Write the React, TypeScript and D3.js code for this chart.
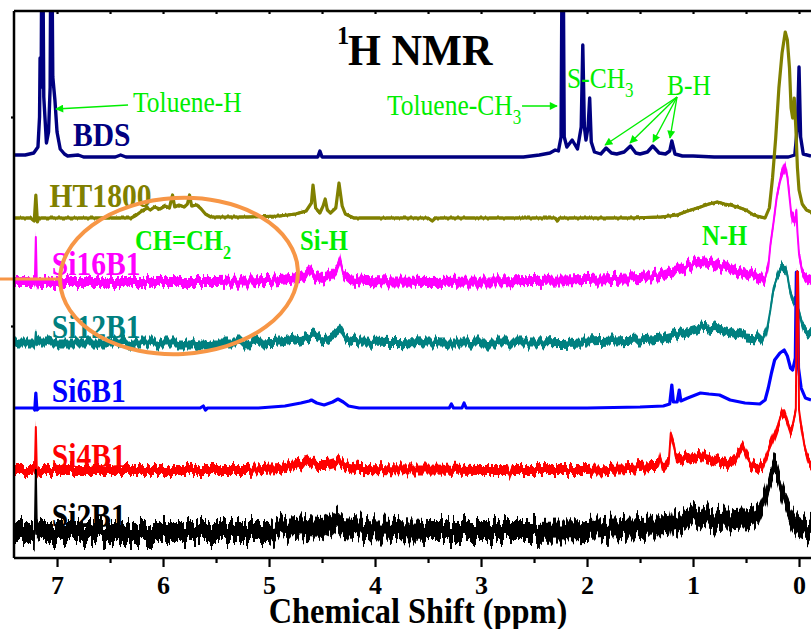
import React, { useEffect, useRef } from 'react';
import * as d3 from 'd3';

const WIDTH = 811;
const HEIGHT = 629;
const PLOT = { left: 14, top: 11, right: 811, bottom: 558 };

// Chemical shift axis (ppm, reversed) and stacked intensity axis (a.u.)
const ppmDomain: [number, number] = [7.406, -0.113];
const intensityDomain: [number, number] = [0, 547];
const majorTicks = [7, 6, 5, 4, 3, 2, 1, 0];
const minorTicks = [6.5, 5.5, 4.5, 3.5, 2.5, 1.5, 0.5];
const topTicks = [7, 6.5, 6, 5.5, 5, 4.5, 4, 3.5, 3, 2.5, 2, 1.5, 1, 0.5, 0];
const leftTicks = [232, 441];

const sampleNames = ['BDS', 'HT1800', 'Si16B1', 'Si12B1', 'Si6B1', 'Si4B1', 'Si2B1'];
const sampleColors = ['#000080', '#808000', '#ff00ff', '#008080', '#0000ff', '#ff0000', '#000000'];
const sampleOffsets = [401, 340, 276, 215, 150, 88, 26];
// half-thickness of the noise band around each trace
const sampleNoise = [0, 1.4, 5, 4.5, 0, 5, 10];
const sampleStroke = [3.4, 3.2, 2, 2, 3.2, 2, 2];
const sampleLabelPos: [number, number][] = [
  [6.85, 11], [7.07, 11], [7.05, 7], [7.05, 5], [7.05, 6], [7.05, 3], [7.05, 5],
];

// [ppm, intensity above the trace baseline]
const bdsSpectrum: [number, number][] = [
  [7.406, 2], [7.3, 2], [7.22, 4], [7.18, 10], [7.165, 40], [7.16, 99], [7.15, 70], [7.14, 300],
  [7.125, 60], [7.1, 14], [7.08, 25], [7.065, 70], [7.055, 300], [7.04, 80], [7.02, 57], [7.0, 25],
  [6.97, 8], [6.93, 3], [6.9, 1], [6.8, 2], [6.75, 0], [6.45, 0], [6.4, 2], [6.35, 0],
  [4.54, 0], [4.52, 6], [4.5, 0], [2.6, 0], [2.45, 2], [2.35, 4], [2.3, 7], [2.27, 6],
  [2.245, 20], [2.23, 300], [2.215, 20], [2.19, 10], [2.14, 17], [2.09, 8], [2.055, 30],
  [2.04, 112], [2.025, 30], [2.01, 17], [1.99, 30], [1.975, 59], [1.96, 15], [1.93, 5],
  [1.87, 3], [1.82, 9], [1.77, 4], [1.72, 3], [1.65, 5], [1.59, 11], [1.54, 4], [1.5, 3],
  [1.43, 5], [1.38, 11], [1.32, 4], [1.26, 3], [1.22, 6], [1.2, 16], [1.17, 3], [1.1, 1],
  [1.0, 1], [0.8, 0], [0.1, 0], [0.04, 2], [0.015, 30], [0.0, 90], [-0.015, 20], [-0.04, 3],
  [-0.113, 1],
];

const ht1800Spectrum: [number, number][] = [
  [7.406, 0], [7.25, 0], [7.215, -3], [7.2, 23], [7.185, -4], [7.17, 0], [6.3, 0], [6.25, 3],
  [6.2, 7], [6.15, 10], [6.12, 8], [6.08, 11], [6.03, 9], [5.98, 12], [5.94, 10], [5.91, 23],
  [5.89, 11], [5.85, 13], [5.8, 11], [5.77, 14], [5.75, 23], [5.73, 12], [5.68, 13], [5.64, 9],
  [5.6, 4], [5.55, 1], [5.2, 1], [4.9, 2], [4.75, 4], [4.65, 7], [4.6, 15], [4.585, 33],
  [4.56, 10], [4.52, 5], [4.49, 12], [4.47, 19], [4.45, 8], [4.42, 5], [4.37, 10], [4.34, 35],
  [4.31, 12], [4.28, 4], [4.2, 0], [3.5, 0], [3.46, -3], [3.43, 0], [2.3, 0], [2.28, -3],
  [2.26, 0], [1.6, 0], [1.3, 1], [1.15, 3], [1.05, 7], [0.93, 11], [0.85, 14], [0.77, 16],
  [0.7, 14], [0.65, 13], [0.58, 11], [0.5, 8], [0.43, 3], [0.36, 1], [0.32, 0], [0.28, 10],
  [0.25, 40], [0.22, 80], [0.19, 130], [0.16, 165], [0.13, 186], [0.11, 178], [0.09, 150],
  [0.075, 110], [0.06, 100], [0.045, 120], [0.03, 90], [0.015, 50], [0.0, 28], [-0.03, 14],
  [-0.07, 8], [-0.113, 6],
];

const si16b1Spectrum: [number, number][] = [
  [7.406, 0], [7.22, 0], [7.21, -3], [7.2, 45], [7.19, -4], [7.17, 0], [5.5, 0], [5.0, 1],
  [4.8, 3], [4.7, 5], [4.62, 12], [4.58, 7], [4.5, 4], [4.42, 7], [4.36, 14], [4.33, 22],
  [4.3, 8], [4.25, 3], [4.1, 1], [3.5, 0], [2.5, 1], [2.0, 2], [1.5, 4], [1.3, 7], [1.15, 12],
  [1.05, 16], [0.93, 20], [0.85, 19], [0.75, 17], [0.65, 13], [0.56, 10], [0.45, 7], [0.38, 5],
  [0.32, 4], [0.29, 15], [0.27, 37], [0.24, 60], [0.21, 85], [0.18, 100], [0.15, 110],
  [0.13, 114], [0.11, 105], [0.09, 85], [0.07, 65], [0.04, 60], [0.025, 72], [0.015, 50],
  [0.0, 28], [-0.03, 10], [-0.06, 5], [-0.113, 2],
];

const si12b1Spectrum: [number, number][] = [
  [7.406, 0], [7.22, 0], [7.21, -2], [7.2, 11], [7.19, -2], [7.17, 0], [5.2, 0], [4.9, 2],
  [4.75, 4], [4.62, 7], [4.58, 8], [4.52, 4], [4.45, 5], [4.38, 9], [4.33, 13], [4.28, 4],
  [4.15, 1], [3.5, 0], [2.5, 0], [2.0, 1], [1.5, 3], [1.3, 5], [1.12, 10], [1.0, 14], [0.93, 16],
  [0.85, 15], [0.75, 13], [0.62, 9], [0.5, 6], [0.4, 5], [0.34, 5], [0.3, 15], [0.27, 33],
  [0.24, 55], [0.2, 68], [0.16, 75], [0.13, 76], [0.11, 68], [0.09, 55], [0.07, 45], [0.05, 40],
  [0.02, 38], [0.0, 32], [-0.04, 15], [-0.08, 10], [-0.113, 8],
];

const si6b1Spectrum: [number, number][] = [
  [7.406, 0], [7.22, 0], [7.21, -2], [7.2, 15], [7.19, -2], [7.17, 0], [5.65, 0], [5.62, 2],
  [5.6, -2], [5.58, 0], [5.1, 0], [4.85, 2],
  [4.7, 5], [4.62, 7], [4.6, 8], [4.55, 5], [4.48, 3], [4.4, 6], [4.35, 9], [4.3, 6], [4.25, 2],
  [4.15, 0], [3.3, 0], [3.28, 4], [3.26, 0], [3.18, 0], [3.16, 5], [3.14, 0], [2.0, 0], [1.5, 1],
  [1.28, 2], [1.22, 4], [1.2, 23], [1.185, 6], [1.15, 6], [1.13, 18], [1.115, 7], [1.05, 10],
  [0.93, 15], [0.85, 14], [0.75, 13], [0.65, 8], [0.51, 5], [0.37, 4], [0.32, 8], [0.29, 20],
  [0.26, 35], [0.23, 48], [0.18, 55], [0.14, 58], [0.11, 52], [0.08, 40], [0.06, 38],
  [0.035, 50], [0.025, 136], [0.015, 136], [0.005, 40], [-0.02, 20], [-0.06, 10], [-0.113, 8],
];

const si4b1Spectrum: [number, number][] = [
  [7.406, 0], [7.22, 0], [7.21, -3], [7.2, 43], [7.19, -4], [7.17, 0], [5.2, 0], [4.9, 2],
  [4.75, 5], [4.65, 8], [4.6, 10], [4.55, 5], [4.45, 5], [4.38, 7], [4.33, 9], [4.28, 4],
  [4.15, 1], [3.0, 0], [2.75, 0], [2.73, -5], [2.71, 0], [2.0, 0], [1.6, 2], [1.4, 4], [1.33, 4],
  [1.31, 13], [1.29, 5], [1.23, 6], [1.21, 37], [1.18, 25], [1.16, 12], [1.12, 10], [1.05, 12],
  [0.95, 14], [0.88, 13], [0.78, 10], [0.68, 7], [0.6, 9], [0.55, 20], [0.53, 23], [0.5, 15],
  [0.46, 7], [0.4, 3], [0.34, 4], [0.3, 15], [0.25, 30], [0.2, 45], [0.16, 58], [0.13, 55],
  [0.1, 45], [0.085, 40], [0.06, 45], [0.03, 60], [0.02, 198], [0.01, 198], [0.0, 60],
  [-0.02, 45], [-0.05, 25], [-0.08, 12], [-0.113, 7],
];

const si2b1Spectrum: [number, number][] = [
  [7.406, 0], [7.22, 0], [7.21, -2], [7.2, 62], [7.19, -2], [7.17, 0], [5.0, 0], [4.85, 4],
  [4.65, 6], [4.5, 5], [4.42, 10], [4.38, 14], [4.3, 5], [4.1, 3], [3.5, 1], [2.5, 1], [2.0, 2],
  [1.5, 5], [1.23, 6], [1.21, 15], [1.19, 7], [1.1, 10], [1.0, 17], [0.9, 14], [0.75, 12],
  [0.6, 13], [0.45, 14], [0.38, 18], [0.33, 30], [0.28, 50], [0.24, 62], [0.21, 60], [0.17, 45],
  [0.12, 28], [0.07, 16], [0.02, 8], [-0.03, 4], [-0.113, 2],
];

const spectra = [
  bdsSpectrum, ht1800Spectrum, si16b1Spectrum, si12b1Spectrum,
  si6b1Spectrum, si4b1Spectrum, si2b1Spectrum,
];

// Green peak assignments: [text, subscript, ppm, intensity, bold]
const assignments: [string, string, number, number, boolean][] = [
  ['Toluene-H', '', 6.283, 446, false],
  ['Toluene-CH', '3', 3.887, 443, false],
  ['S-CH', '3', 2.189, 470, false],
  ['B-H', '', 1.245, 463, false],
  ['CH=CH', '2', 6.264, 308, true],
  ['Si-H', '', 4.708, 308, true],
  ['N-H', '', 0.915, 313, true],
];

// Arrows: [fromPpm, fromIntensity, toPpm, toIntensity]
const arrows: [number, number, number, number][] = [
  [6.33, 453, 7.01, 449],
  [2.613, 452, 2.283, 452],
  [1.151, 461, 1.83, 413],
  [1.151, 461, 1.594, 415],
  [1.151, 461, 1.377, 416],
  [1.151, 461, 1.217, 420],
];

const FONT = '"Liberation Serif", "Times New Roman", Times, serif';
const GREEN = '#00ee00';
const ORANGE = '#f79646';

export default function App() {
  const bottomRef = useRef<SVGGElement>(null);
  const bottomMinorRef = useRef<SVGGElement>(null);
  const topRef = useRef<SVGGElement>(null);
  const leftRef = useRef<SVGGElement>(null);

  const x = d3.scaleLinear().domain(ppmDomain).range([PLOT.left, PLOT.right]);
  const y = d3.scaleLinear().domain(intensityDomain).range([PLOT.bottom, PLOT.top]);

  useEffect(() => {
    const styleAxis = (g: d3.Selection<SVGGElement, unknown, null, undefined>) => {
      g.select('.domain').remove();
      g.selectAll('line').attr('stroke', '#000').attr('stroke-width', 2.2);
    };
    const gB = d3.select(bottomRef.current!);
    gB.call(d3.axisBottom(x).tickValues(majorTicks).tickSize(9).tickFormat(d3.format('d')));
    styleAxis(gB);
    gB.selectAll('text')
      .attr('y', 36)
      .attr('dy', 0)
      .attr('fill', '#000')
      .style('font-family', FONT)
      .style('font-weight', 'bold')
      .style('font-size', '26px');

    const gBm = d3.select(bottomMinorRef.current!);
    gBm.call(d3.axisBottom(x).tickValues(minorTicks).tickSize(5).tickFormat(() => ''));
    styleAxis(gBm);

    const gT = d3.select(topRef.current!);
    gT.call(d3.axisBottom(x).tickValues(topTicks).tickSize(3).tickFormat(() => ''));
    styleAxis(gT);

    const gL = d3.select(leftRef.current!);
    gL.call(d3.axisLeft(y).tickValues(leftTicks).tickSize(3).tickFormat(() => ''));
    styleAxis(gL);
  }, []);

  const order = [0, 1, 2, 3, 4, 5, 6];

  return (
    <svg
      width={WIDTH}
      height={HEIGHT}
      style={{ position: 'absolute', left: 0, top: 0, background: '#fff' }}
      fontFamily={FONT}
    >
      <defs>
        <clipPath id="plotClip">
          <rect x={PLOT.left} y={PLOT.top} width={PLOT.right - PLOT.left} height={PLOT.bottom - PLOT.top} />
        </clipPath>
        {/* column-wise vertical jitter: each pixel column of the band is shifted up or down */}
        {order.map((i) => (
          <filter
            key={i}
            id={`jitter${i}`}
            filterUnits="userSpaceOnUse"
            x={0}
            y={0}
            width={WIDTH}
            height={HEIGHT}
            colorInterpolationFilters="sRGB"
          >
            <feTurbulence type="fractalNoise" baseFrequency="0.3 0.004" numOctaves={2} seed={i * 7 + 3} result="n" />
            <feColorMatrix
              in="n"
              type="matrix"
              values="0 0 0 0 0.5  0 2.2 0 0 -0.6  0 0 0 0 0  0 0 0 0 1"
              result="m"
            />
            <feDisplacementMap
              in="SourceGraphic"
              in2="m"
              scale={sampleNoise[i] * 1.6}
              xChannelSelector="R"
              yChannelSelector="G"
            />
          </filter>
        ))}
        <marker
          id="arrowHead"
          viewBox="0 0 10 10"
          refX={9}
          refY={5}
          markerWidth={10}
          markerHeight={8}
          markerUnits="userSpaceOnUse"
          orient="auto"
        >
          <path d="M0,0 L10,5 L0,10 Z" fill={GREEN} />
        </marker>
      </defs>

      {/* spectra */}
      <g clipPath="url(#plotClip)">
        {order.map((i) => {
          const off = sampleOffsets[i];
          const amp = sampleNoise[i];
          const data = spectra[i];
          const line = d3
            .line<[number, number]>()
            .x((d) => x(d[0]))
            .y((d) => y(off + d[1]));
          const band = d3
            .area<[number, number]>()
            .x((d) => x(d[0]))
            .y0((d) => y(off + d[1] - amp))
            .y1((d) => y(off + d[1] + amp));
          return (
            <g key={sampleNames[i]}>
              {amp > 0 && (
                <path d={band(data) ?? ''} fill={sampleColors[i]} filter={`url(#jitter${i})`} />
              )}
              <path
                d={line(data) ?? ''}
                fill="none"
                stroke={sampleColors[i]}
                strokeWidth={sampleStroke[i]}
                strokeLinejoin="round"
              />
            </g>
          );
        })}
      </g>

      {/* sample labels */}
      {order.map((i) => {
        const [p, v] = sampleLabelPos[i];
        return (
          <text
            key={`lab${i}`}
            transform={`translate(${x(p)},${y(sampleOffsets[i] + v)}) scale(0.87,1)`}
            fill={sampleColors[i]}
            fontSize={34}
            fontWeight="bold"
          >
            {sampleNames[i]}
          </text>
        );
      })}

      {/* peak assignments */}
      {assignments.map(([t, sub, p, v, bold]) => (
        <text
          key={t}
          transform={`translate(${x(p)},${y(v)}) scale(0.85,1)`}
          fill={GREEN}
          fontSize={bold ? 29 : 30}
          fontWeight={bold ? 'bold' : 'normal'}
        >
          {t}
          {sub && (
            <tspan fontSize={bold ? 19 : 20} dy={9}>
              {sub}
            </tspan>
          )}
        </text>
      ))}
      {arrows.map(([p0, v0, p1, v1], k) => (
        <line
          key={`arr${k}`}
          x1={x(p0)}
          y1={y(v0)}
          x2={x(p1)}
          y2={y(v1)}
          stroke={GREEN}
          strokeWidth={1.4}
          markerEnd="url(#arrowHead)"
        />
      ))}

      {/* highlighted vinyl region */}
      <ellipse
        cx={179}
        cy={276}
        rx={119}
        ry={78}
        transform="rotate(-3 179 276)"
        fill="none"
        stroke={ORANGE}
        strokeWidth={4}
      />
      <line x1={0} y1={279} x2={61} y2={279} stroke={ORANGE} strokeWidth={3} />

      {/* frame and axes */}
      <line x1={PLOT.left} y1={PLOT.top} x2={PLOT.right} y2={PLOT.top} stroke="#000" strokeWidth={2.5} />
      <line x1={PLOT.left} y1={PLOT.bottom} x2={PLOT.right} y2={PLOT.bottom} stroke="#000" strokeWidth={2.5} />
      <line x1={PLOT.left} y1={PLOT.top} x2={PLOT.left} y2={PLOT.bottom} stroke="#000" strokeWidth={2.5} />
      <g ref={bottomRef} transform={`translate(0,${PLOT.bottom})`} />
      <g ref={bottomMinorRef} transform={`translate(0,${PLOT.bottom})`} />
      <g ref={topRef} transform={`translate(0,${PLOT.top})`} />
      <g ref={leftRef} transform={`translate(${PLOT.left},0)`} />

      {/* titles */}
      <text transform="translate(337,44) scale(0.94,1)" fontSize={26} fontWeight="bold" fill="#000">
        1
      </text>
      <text transform="translate(348,65) scale(0.94,1)" fontSize={45} fontWeight="bold" fill="#000">
        H NMR
      </text>
      <text
        transform="translate(418,623) scale(0.9,1)"
        fontSize={36}
        fontWeight="bold"
        fill="#000"
        textAnchor="middle"
      >
        Chemical Shift (ppm)
      </text>
    </svg>
  );
}
